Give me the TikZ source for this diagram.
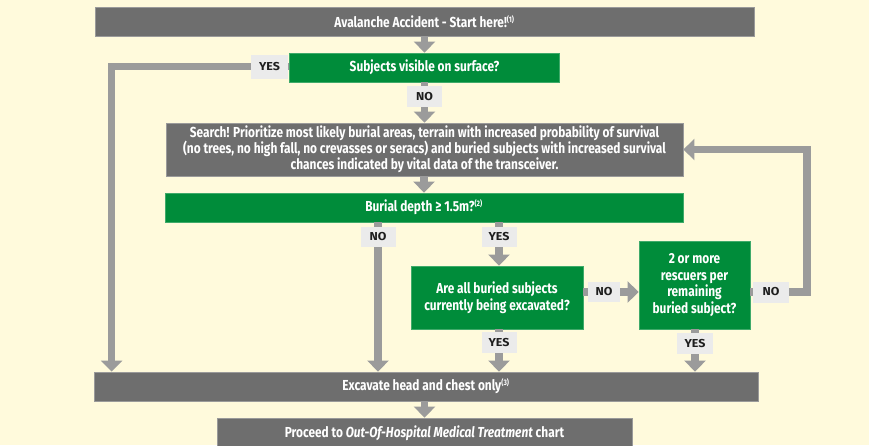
\documentclass[tikz,border=0pt]{standalone}
\usepackage{fontspec}
\setmainfont{Fira Sans}
\newfontfamily\boxfont{Fira Sans}[FakeStretch=0.82]
\newfontfamily\labfont{Fira Sans}[FakeStretch=1.08]
\usetikzlibrary{arrows.meta}
\definecolor{bgc}{HTML}{FFFADC}
\definecolor{boxgray}{HTML}{6E6E6E}
\definecolor{boxgrayedge}{HTML}{9A9A9A}
\definecolor{boxgreen}{HTML}{008C3A}
\definecolor{boxgreenedge}{HTML}{3FAA6A}
\definecolor{conncol}{HTML}{9B9B9B}
\definecolor{labbg}{HTML}{EBEBEB}
\definecolor{labtext}{HTML}{1E1E1E}
\tikzset{
  basebox/.style={line width=0.8pt, inner sep=0pt, text=white, align=center,
    font=\boxfont\bfseries\fontsize{14.5}{15.8}\selectfont},
  graybox/.style={basebox, fill=boxgray, draw=boxgrayedge},
  greenbox/.style={basebox, fill=boxgreen, draw=boxgreenedge},
  tallgreen/.style={greenbox, font=\boxfont\bfseries\fontsize{14.5}{16.8}\selectfont},
  lab/.style={fill=labbg, inner sep=0pt, minimum width=35pt, minimum height=21pt,
    text=labtext, font=\labfont\bfseries\fontsize{11.5}{13}\selectfont},
  conn/.style={draw=conncol, line width=7.5pt},
  arr/.style={-{Triangle[width=21pt,length=11pt]}},
}
\newcommand{\fn}[1]{\textsuperscript{\fontsize{8}{9}\selectfont(#1)}}
\begin{document}
\begin{tikzpicture}[x=1pt,y=-1pt]
\useasboundingbox (0,0) rectangle (869,445);
\clip (0,0) rectangle (869,445);
\fill[bgc] (0,0) rectangle (869,445);

\node[graybox, minimum width=659pt, minimum height=29pt] (top) at (424.5,21.5) {Avalanche Accident - Start here!\fn{1}};
\node[greenbox, minimum width=270pt, minimum height=29pt] (vis) at (424.5,67.5) {Subjects visible on surface?};
\node[lab, minimum width=36.5pt, minimum height=24pt] (yes1) at (269.5,66.5) {YES};
\node[lab] (no1) at (424.5,96.5) {NO};
\node[graybox, minimum width=517pt, minimum height=53pt] (search) at (424.5,149.5)
  {Search! Prioritize most likely burial areas, terrain with increased probability of survival\\
   (no trees, no high fall, no crevasses or seracs) and buried subjects with increased survival\\
   chances indicated by vital data of the transceiver.};
\node[greenbox, minimum width=518pt, minimum height=29pt] (burial) at (424,207.5) {Burial depth ≥ 1.5m?\fn{2}};
\node[lab, minimum height=20pt] (no2) at (378,237) {NO};
\node[lab, minimum height=20pt] (yes2) at (499,237) {YES};
\node[tallgreen, minimum width=172pt, minimum height=63pt] (allq) at (497,297.5)
  {Are all buried subjects\\currently being excavated?};
\node[lab, minimum width=32pt, minimum height=20pt] (no3) at (604,292) {NO};
\node[tallgreen, minimum width=111pt, minimum height=88pt] (rescq) at (694.5,285)
  {2 or more\\rescuers per\\remaining\\buried subject?};
\node[lab, minimum width=36pt] (no4) at (771,292) {NO};
\node[lab] (yes3) at (499,342.5) {YES};
\node[lab, minimum width=36pt] (yes4) at (695,343.5) {YES};
\node[graybox, minimum width=664pt, minimum height=29pt] (excav) at (426,386.5) {Excavate head and chest only\fn{3}};
\node[graybox, minimum width=415pt, minimum height=30pt] (proc) at (424.5,433)
  {Proceed to \textit{Out-Of-Hospital Medical Treatment} chart};
\coordinate (rc) at (807,149.5);

% connectors
\draw[conn,arr] (top.south -| vis) -- (vis.north);
\draw[conn] (vis.west |- yes1) -- (yes1.east);
\draw[conn,arr] (yes1.west) -| ([xshift=18pt]excav.north west);
\draw[conn] (vis.south -| no1) -- (no1.north);
\draw[conn,arr] (no1.south) -- (no1.south |- search.north);
\draw[conn,arr] (search.south -| burial) -- (burial.north);
\draw[conn] (burial.south -| no2) -- (no2.north);
\draw[conn,arr] (no2.south) -- (no2.south |- excav.north);
\draw[conn] (burial.south -| yes2) -- (yes2.north);
\draw[conn,arr] (yes2.south) -- (yes2.south |- allq.north);
\draw[conn] (allq.east |- no3) -- (no3.west);
\draw[conn,arr] (no3.east) -- (no3.east -| rescq.west);
\draw[conn] (rescq.east |- no4) -- (no4.west);
\draw[conn,arr] (no4.east) -| (rc) -- (search.east);
\draw[conn] (allq.south -| yes3) -- (yes3.north);
\draw[conn,arr] (yes3.south) -- (yes3.south |- excav.north);
\draw[conn] (rescq.south -| yes4) -- (yes4.north);
\draw[conn,arr] (yes4.south) -- (yes4.south |- excav.north);
\draw[conn,arr] (excav.south -| proc) -- (proc.north);
\end{tikzpicture}
\end{document}
